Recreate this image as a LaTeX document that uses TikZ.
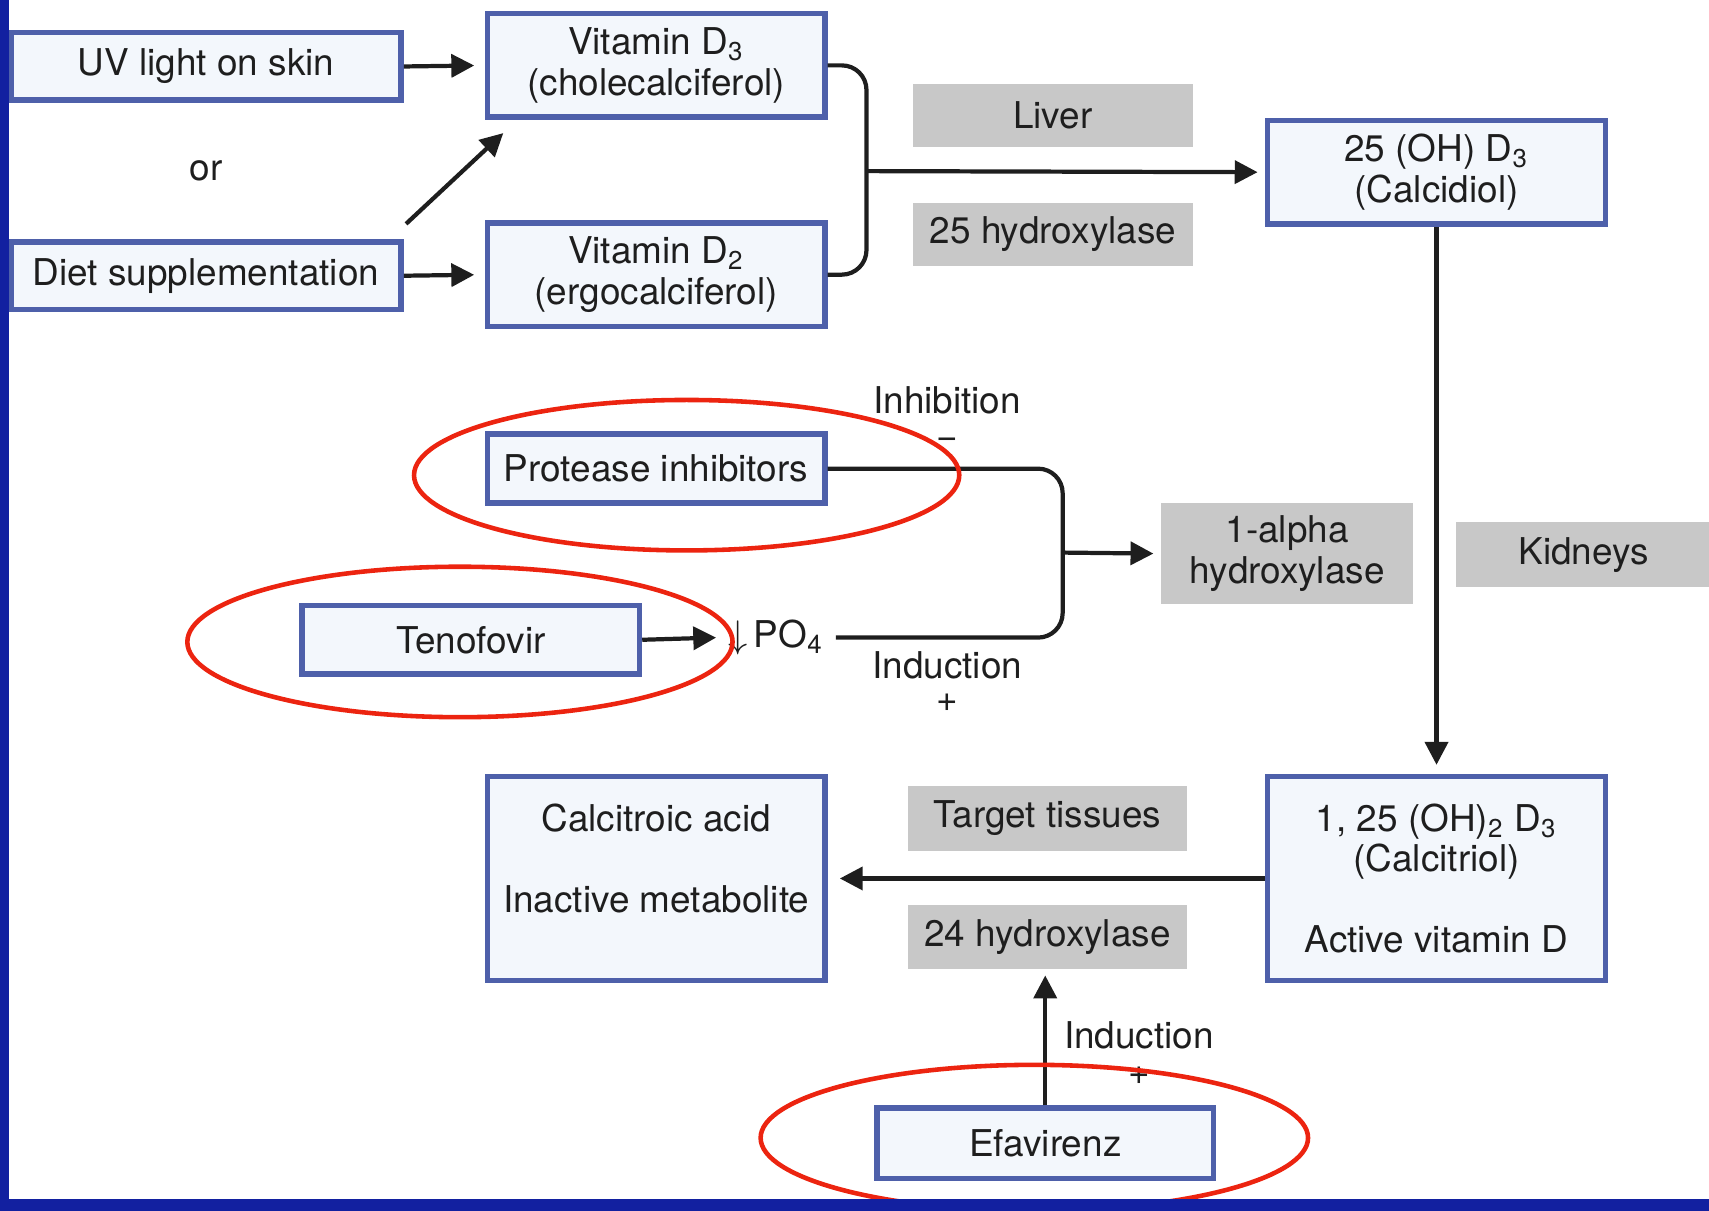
\documentclass[tikz,border=0pt]{standalone}
\usepackage{fontspec}
\setmainfont{TeX Gyre Heros}
\usepackage{tikz}
\usetikzlibrary{arrows.meta}
\definecolor{boxblue}{RGB}{78,96,170}
\definecolor{boxfill}{RGB}{243,247,252}
\definecolor{sitegray}{RGB}{200,200,200}
\definecolor{ringred}{RGB}{236,36,16}
\definecolor{barblue}{RGB}{18,32,160}
\definecolor{ink}{RGB}{30,30,30}
\tikzstyle{blue box} = [draw=boxblue, fill=boxfill, line width=1.6pt, text=ink, align=center, inner sep=0pt]
\tikzstyle{gray box} = [fill=sitegray, text=ink, align=center, inner sep=0pt]
\tikzstyle{red ring} = [draw=ringred, line width=1.3pt]
\tikzstyle{flow}     = [draw=ink, line width=1.2pt]
\tikzstyle{arrow}    = [flow, -{Triangle[length=6.5pt,width=6.5pt]}]

\begin{document}
\begin{tikzpicture}[x=0.0109cm, y=-0.0109cm,
                    font=\fontsize{10.5}{11.5}\selectfont
                    ]
\useasboundingbox (0,0) rectangle (1568,1111);

    % where vitamin D comes from
    \node(uv)[blue box, minimum width=3.90cm, minimum height=0.676cm] at (189,61) {UV light on skin};
    \node(or)[text=ink] at (189,157) {or};
    \node(diet)[blue box, minimum width=3.90cm, minimum height=0.676cm] at (189,253) {Diet supplementation};
    \node(d3)[blue box, minimum width=3.37cm, minimum height=1.036cm] at (602,60) {Vitamin D\textsubscript{3}\\(cholecalciferol)};
    \node(d2)[blue box, minimum width=3.37cm, minimum height=1.036cm] at (602,252) {Vitamin D\textsubscript{2}\\(ergocalciferol)};

    \draw[arrow, shorten >=3pt] (uv.east) -- (d3.west);
    \draw[arrow, shorten >=3pt] (diet.east) -- (d2.west);
    \draw[arrow] ([shift={(2,-14)}]diet.north east) -- ([shift={(17,12)}]d3.south west);

    % liver
    \node(liver)[gray box, minimum width=2.80cm, minimum height=0.632cm] at (966,106) {Liver};
    \node(hyd25)[gray box, minimum width=2.80cm, minimum height=0.632cm] at (966,215) {25 hydroxylase};
    \node(calcidiol)[blue box, minimum width=3.38cm, minimum height=1.036cm] at (1318,158) {25 (OH) D\textsubscript{3}\\(Calcidiol)};

    \coordinate(liv) at (795,157);
    \draw[flow, rounded corners=7pt] (d3.east) -| (liv) |- (d2.east);
    \draw[arrow, shorten >=2pt] (liv) -- (calcidiol.west);

    % kidneys
    \node(kidneys)[gray box, minimum width=2.55cm, minimum height=0.654cm] at (1453,509) {Kidneys};
    \node(alpha)[gray box, minimum width=2.52cm, minimum height=1.01cm] at (1181,508) {1-alpha\\hydroxylase};
    \node(calcitriol)[blue box, minimum width=3.38cm, minimum height=2.04cm] at (1318,806)
        {1, 25 (OH)\textsubscript{2} D\textsubscript{3}\\(Calcitriol)\\[11.5pt]Active vitamin D};
    \draw[arrow, shorten >=2.5pt] (calcidiol.south) -- (calcitriol.north);

    % drugs acting on 1-alpha hydroxylase
    \node(protease)[blue box, minimum width=3.37cm, minimum height=0.687cm] at (602,430) {Protease inhibitors};
    \node(tenofovir)[blue box, minimum width=3.37cm, minimum height=0.687cm] at (432,587) {Tenofovir};
    \node(po4)[text=ink] at (712,585) {$\downarrow$\,PO\textsubscript{4}};
    \draw[arrow] (tenofovir.east) -- (po4.west);

    \coordinate(alf) at (975,507);
    \draw[flow, rounded corners=7pt] (protease.east) -| (alf) |- (po4.east);
    \draw[arrow, shorten >=2pt] (alf) -- (alpha.west);
    \node(inh)[text=ink, align=center, anchor=north, inner sep=0pt] at (869,354) {Inhibition\\[-1.5pt]−};
    \node(ind)[text=ink, align=center, anchor=north, inner sep=0pt] at (869,597) {Induction\\[-2pt]+};

    % target tissues
    \node(calcitroic)[blue box, minimum width=3.37cm, minimum height=2.04cm] at (602,806)
        {Calcitroic acid\\[11.5pt]Inactive metabolite\\[0pt]\mbox{}};
    \node(target)[gray box, minimum width=2.79cm, minimum height=0.643cm] at (961,751) {Target tissues};
    \node(hyd24)[gray box, minimum width=2.79cm, minimum height=0.643cm] at (961,860) {24 hydroxylase};
    \draw[arrow, shorten >=3.5pt] (calcitriol.west) -- (calcitroic.east);

    \node(efavirenz)[blue box, minimum width=3.36cm, minimum height=0.70cm] at (959,1049) {Efavirenz};
    \draw[arrow, shorten >=1.5pt] (efavirenz.north) -- (efavirenz.north |- hyd24.south);
    \node(ind2)[text=ink, align=center, anchor=north, inner sep=0pt] at (1045,937) {Induction\\[-1.5pt]+};

    % red marks round the drugs
    \draw[red ring] (630,436) ellipse [x radius=2.725cm, y radius=0.752cm];
    \draw[red ring] (422,589) ellipse [x radius=2.725cm, y radius=0.752cm];
    \draw[red ring] (949,1044) ellipse [x radius=2.736cm, y radius=0.73cm];

    % slide frame
    \fill[barblue] (0,0) rectangle (8,1111);
    \fill[barblue] (0,1100) rectangle (1568,1111);

\end{tikzpicture}
\end{document}
